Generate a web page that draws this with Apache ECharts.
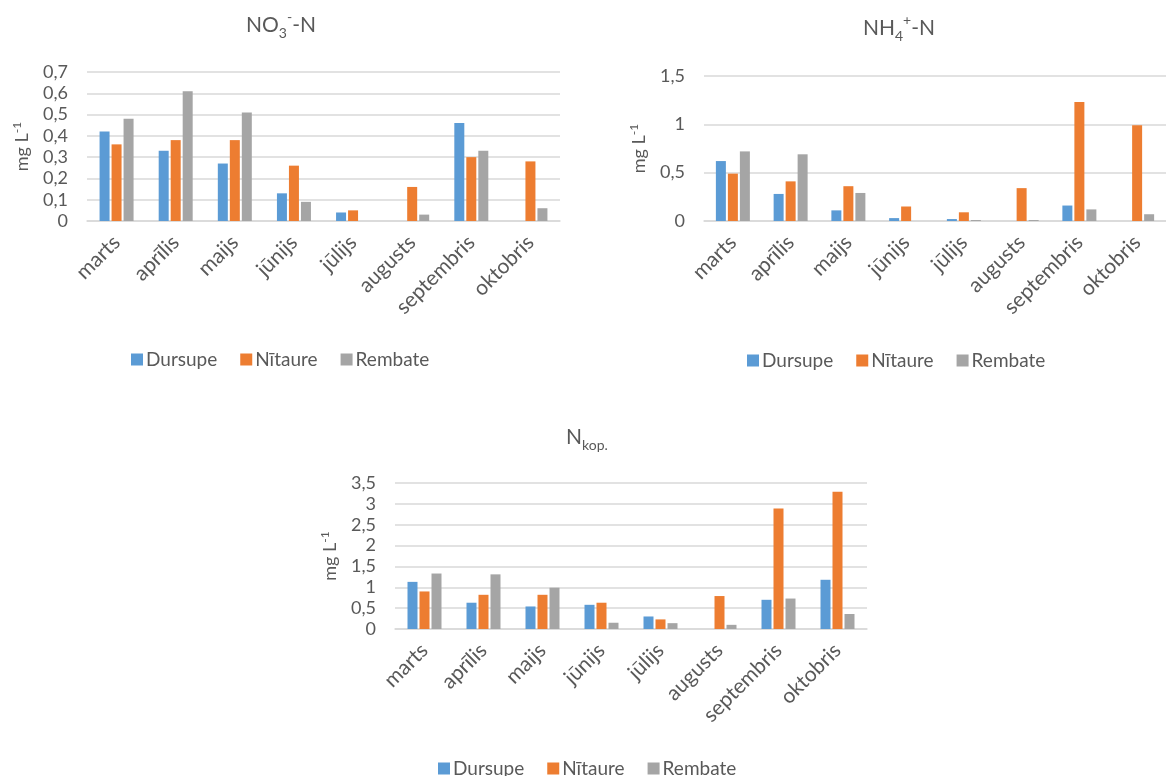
<!DOCTYPE html>
<html><head><meta charset="utf-8">
<script src="https://cdn.jsdelivr.net/npm/echarts@6/dist/echarts.min.js"></script>
<style>html,body{margin:0;padding:0;background:#fff}#c{width:1166px;height:776px}</style>
</head><body><div id="c"></div>
<script>
const categories = ['marts','aprīlis','maijs','jūnijs','jūlijs','augusts','septembris','oktobris'];
const seriesNames = ['Dursupe','Nītaure','Rembate'];
const colors = ['#5B9BD5','#ED7D31','#A5A5A5'];

const no3Dursupe = [0.42,0.33,0.27,0.13,0.04,null,0.46,null];
const no3Nitaure = [0.36,0.38,0.38,0.26,0.05,0.16,0.30,0.28];
const no3Rembate = [0.48,0.61,0.51,0.09,null,0.03,0.33,0.06];

const nh4Dursupe = [0.62,0.28,0.11,0.03,0.02,null,0.16,null];
const nh4Nitaure = [0.49,0.41,0.36,0.15,0.09,0.34,1.23,0.99];
const nh4Rembate = [0.72,0.69,0.29,null,0.01,0.01,0.12,0.07];

const nkopDursupe = [1.13,0.63,0.54,0.58,0.30,null,0.70,1.18];
const nkopNitaure = [0.90,0.82,0.82,0.63,0.23,0.79,2.89,3.29];
const nkopRembate = [1.33,1.31,0.99,0.15,0.14,0.10,0.73,0.36];

const no3Ticks = ['0','0,1','0,2','0,3','0,4','0,5','0,6','0,7'];
const nh4Ticks = ['0','0,5','1','1,5'];
const nkopTicks = ['0','0,5','1','1,5','2','2,5','3','3,5'];

const FONT = 'Lato';
const TXT = '#595959';
const GRID = '#D9D9D9';

const chart = echarts.init(document.getElementById('c'));

function titleOpt(text, x, y){
  return {
    text: text, left: x, top: y, textAlign: 'center', padding: 0,
    textStyle: {
      fontFamily: FONT, color: TXT, fontWeight: 'normal', fontSize: 21, lineHeight: 30,
      rich: {
        a: {fontFamily: FONT, color: TXT, fontSize: 21, lineHeight: 30},
        sub: {fontFamily: FONT, color: TXT, fontSize: 14, lineHeight: 14, verticalAlign: 'bottom'},
        sup: {fontFamily: FONT, color: TXT, fontSize: 14, lineHeight: 14, verticalAlign: 'top'}
      }
    }
  };
}
function legendOpt(x, y){
  return {
    data: seriesNames, left: x, top: y, itemWidth: 12, itemHeight: 12, itemGap: 23,
    icon: 'rect', padding: 0,
    textStyle: {fontFamily: FONT, color: TXT, fontSize: 19, padding: [0,0,0,-2]}
  };
}
function xAxisOpt(gi){
  return {
    type: 'category', gridIndex: gi, data: categories,
    axisTick: {show: false},
    axisLine: {lineStyle: {color: GRID, width: 1.5}},
    axisLabel: {interval: 0, rotate: 45, margin: 18, color: TXT, fontFamily: FONT, fontSize: 21}
  };
}
function yAxisOpt(gi, max, interval, ticks){
  return {
    type: 'value', gridIndex: gi, min: 0, max: max, interval: interval,
    name: '{a|mg L}{sup|-1}', nameLocation: 'middle', nameRotate: 90, nameGap: 54,
    nameTextStyle: {
      fontFamily: FONT, color: TXT, fontSize: 18,
      rich: {
        a: {fontFamily: FONT, color: TXT, fontSize: 18, lineHeight: 22},
        sup: {fontFamily: FONT, color: TXT, fontSize: 12, lineHeight: 12, verticalAlign: 'top'}
      }
    },
    axisLine: {show: false}, axisTick: {show: false},
    splitLine: {lineStyle: {color: GRID, width: 1.5}},
    axisLabel: {
      margin: 19, color: TXT, fontFamily: FONT, fontSize: 18,
      formatter: (v, i) => ticks[Math.round(v / interval)]
    }
  };
}
function barSeries(name, data, gi, ci){
  return {
    type: 'bar', name: name, data: data, xAxisIndex: gi, yAxisIndex: gi,
    barWidth: 10, barGap: '20%', itemStyle: {color: colors[ci]},
    emphasis: {disabled: true}
  };
}

chart.setOption({
  animation: false,
  title: [
    titleOpt('{a|NO}{sub|3}{sup|-}{a|-N}', 281, 10),
    titleOpt('{a|NH}{sub|4}{sup|+}{a|-N}', 899, 13),
    titleOpt('{a|N}{sub|kop.}', 587, 422)
  ],
  legend: [legendOpt(131, 350), legendOpt(747, 351), legendOpt(438, 759)],
  grid: [
    {left: 87, top: 72, width: 473, height: 149},
    {left: 704, top: 76, width: 472, height: 145},
    {left: 395, top: 483, width: 472, height: 146}
  ],
  xAxis: [xAxisOpt(0), xAxisOpt(1), xAxisOpt(2)],
  yAxis: [
    yAxisOpt(0, 0.7, 0.1, no3Ticks),
    yAxisOpt(1, 1.5, 0.5, nh4Ticks),
    yAxisOpt(2, 3.5, 0.5, nkopTicks)
  ],
  series: [
    barSeries(seriesNames[0], no3Dursupe, 0, 0),
    barSeries(seriesNames[1], no3Nitaure, 0, 1),
    barSeries(seriesNames[2], no3Rembate, 0, 2),
    barSeries(seriesNames[0], nh4Dursupe, 1, 0),
    barSeries(seriesNames[1], nh4Nitaure, 1, 1),
    barSeries(seriesNames[2], nh4Rembate, 1, 2),
    barSeries(seriesNames[0], nkopDursupe, 2, 0),
    barSeries(seriesNames[1], nkopNitaure, 2, 1),
    barSeries(seriesNames[2], nkopRembate, 2, 2)
  ]
});
</script></body></html>
